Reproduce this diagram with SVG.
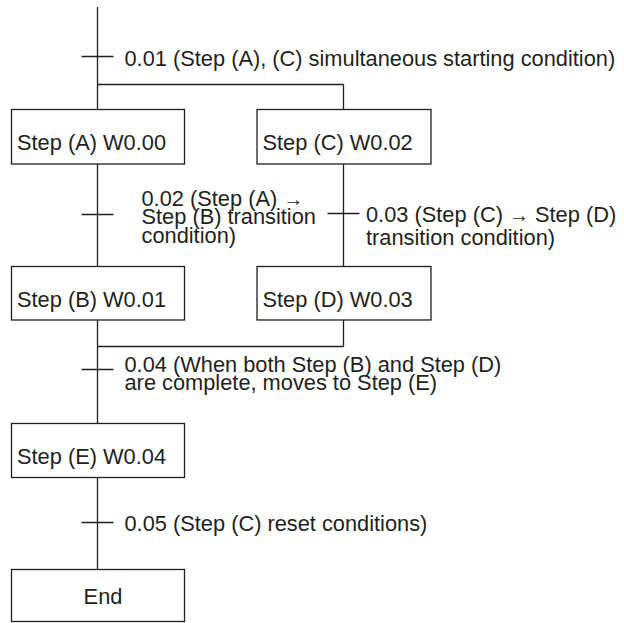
<svg xmlns="http://www.w3.org/2000/svg" width="624" height="623" viewBox="0 0 624 623">
<style>
  .ln{stroke:#231f20;stroke-width:1.3;fill:none}
  .box{stroke:#231f20;stroke-width:1.3;fill:#ffffff}
  text{font-family:"Liberation Sans",Arial,Helvetica,sans-serif;font-size:21.8px;fill:#231f20}
  .arr{font-size:20px}
</style>
<rect width="624" height="623" fill="#ffffff"/>
<g id="connectors">
  <path class="ln" d="M97.5 7V109.5M97.5 164V266.5M97.5 320V423.5M97.5 477.5V569.5"/>
  <path class="ln" d="M97.5 84.5H343.5M343.5 84.5V109.5M343.5 164V266.5M343.5 320V346.5M97.5 346.5H343.5"/>
  <path class="ln" d="M81.5 56.5H113.5M81.5 214.5H113.5M327.5 213.5H359.5M81.5 369.5H113.5M81.5 522.5H113.5"/>
</g>
<g id="t001"><text x="124.5" y="65.5">0.01 (Step (A), (C) simultaneous starting condition)</text></g>
<g id="stepA"><rect class="box" x="11.5" y="109.5" width="173" height="54.5"/><text x="17" y="150">Step (A) W0.00</text></g>
<g id="stepC"><rect class="box" x="257" y="109.5" width="174" height="54.5"/><text x="262.5" y="150">Step (C) W0.02</text></g>
<g id="t002"><text x="141.5" y="205.5">0.02 (Step (A) <tspan class="arr">→</tspan></text><text x="141.5" y="224">Step (B) transition</text><text x="141.5" y="242.5">condition)</text></g>
<g id="t003"><text x="366" y="221.5">0.03 (Step (C) <tspan class="arr">→</tspan> Step (D)</text><text x="366" y="245">transition condition)</text></g>
<g id="stepB"><rect class="box" x="11.5" y="266.5" width="173" height="53.5"/><text x="17" y="306.7">Step (B) W0.01</text></g>
<g id="stepD"><rect class="box" x="257" y="266.5" width="174" height="53.5"/><text x="262.5" y="306.7">Step (D) W0.03</text></g>
<g id="t004"><text x="124.5" y="371.7">0.04 (When both Step (B) and Step (D)</text><text x="124.5" y="390">are complete, moves to Step (E)</text></g>
<g id="stepE"><rect class="box" x="11.5" y="423.5" width="173" height="54"/><text x="17" y="464">Step (E) W0.04</text></g>
<g id="t005"><text x="124.5" y="530.5">0.05 (Step (C) reset conditions)</text></g>
<g id="end"><rect class="box" x="11.5" y="569.5" width="173" height="52"/><text x="103" y="604" text-anchor="middle">End</text></g>
</svg>
